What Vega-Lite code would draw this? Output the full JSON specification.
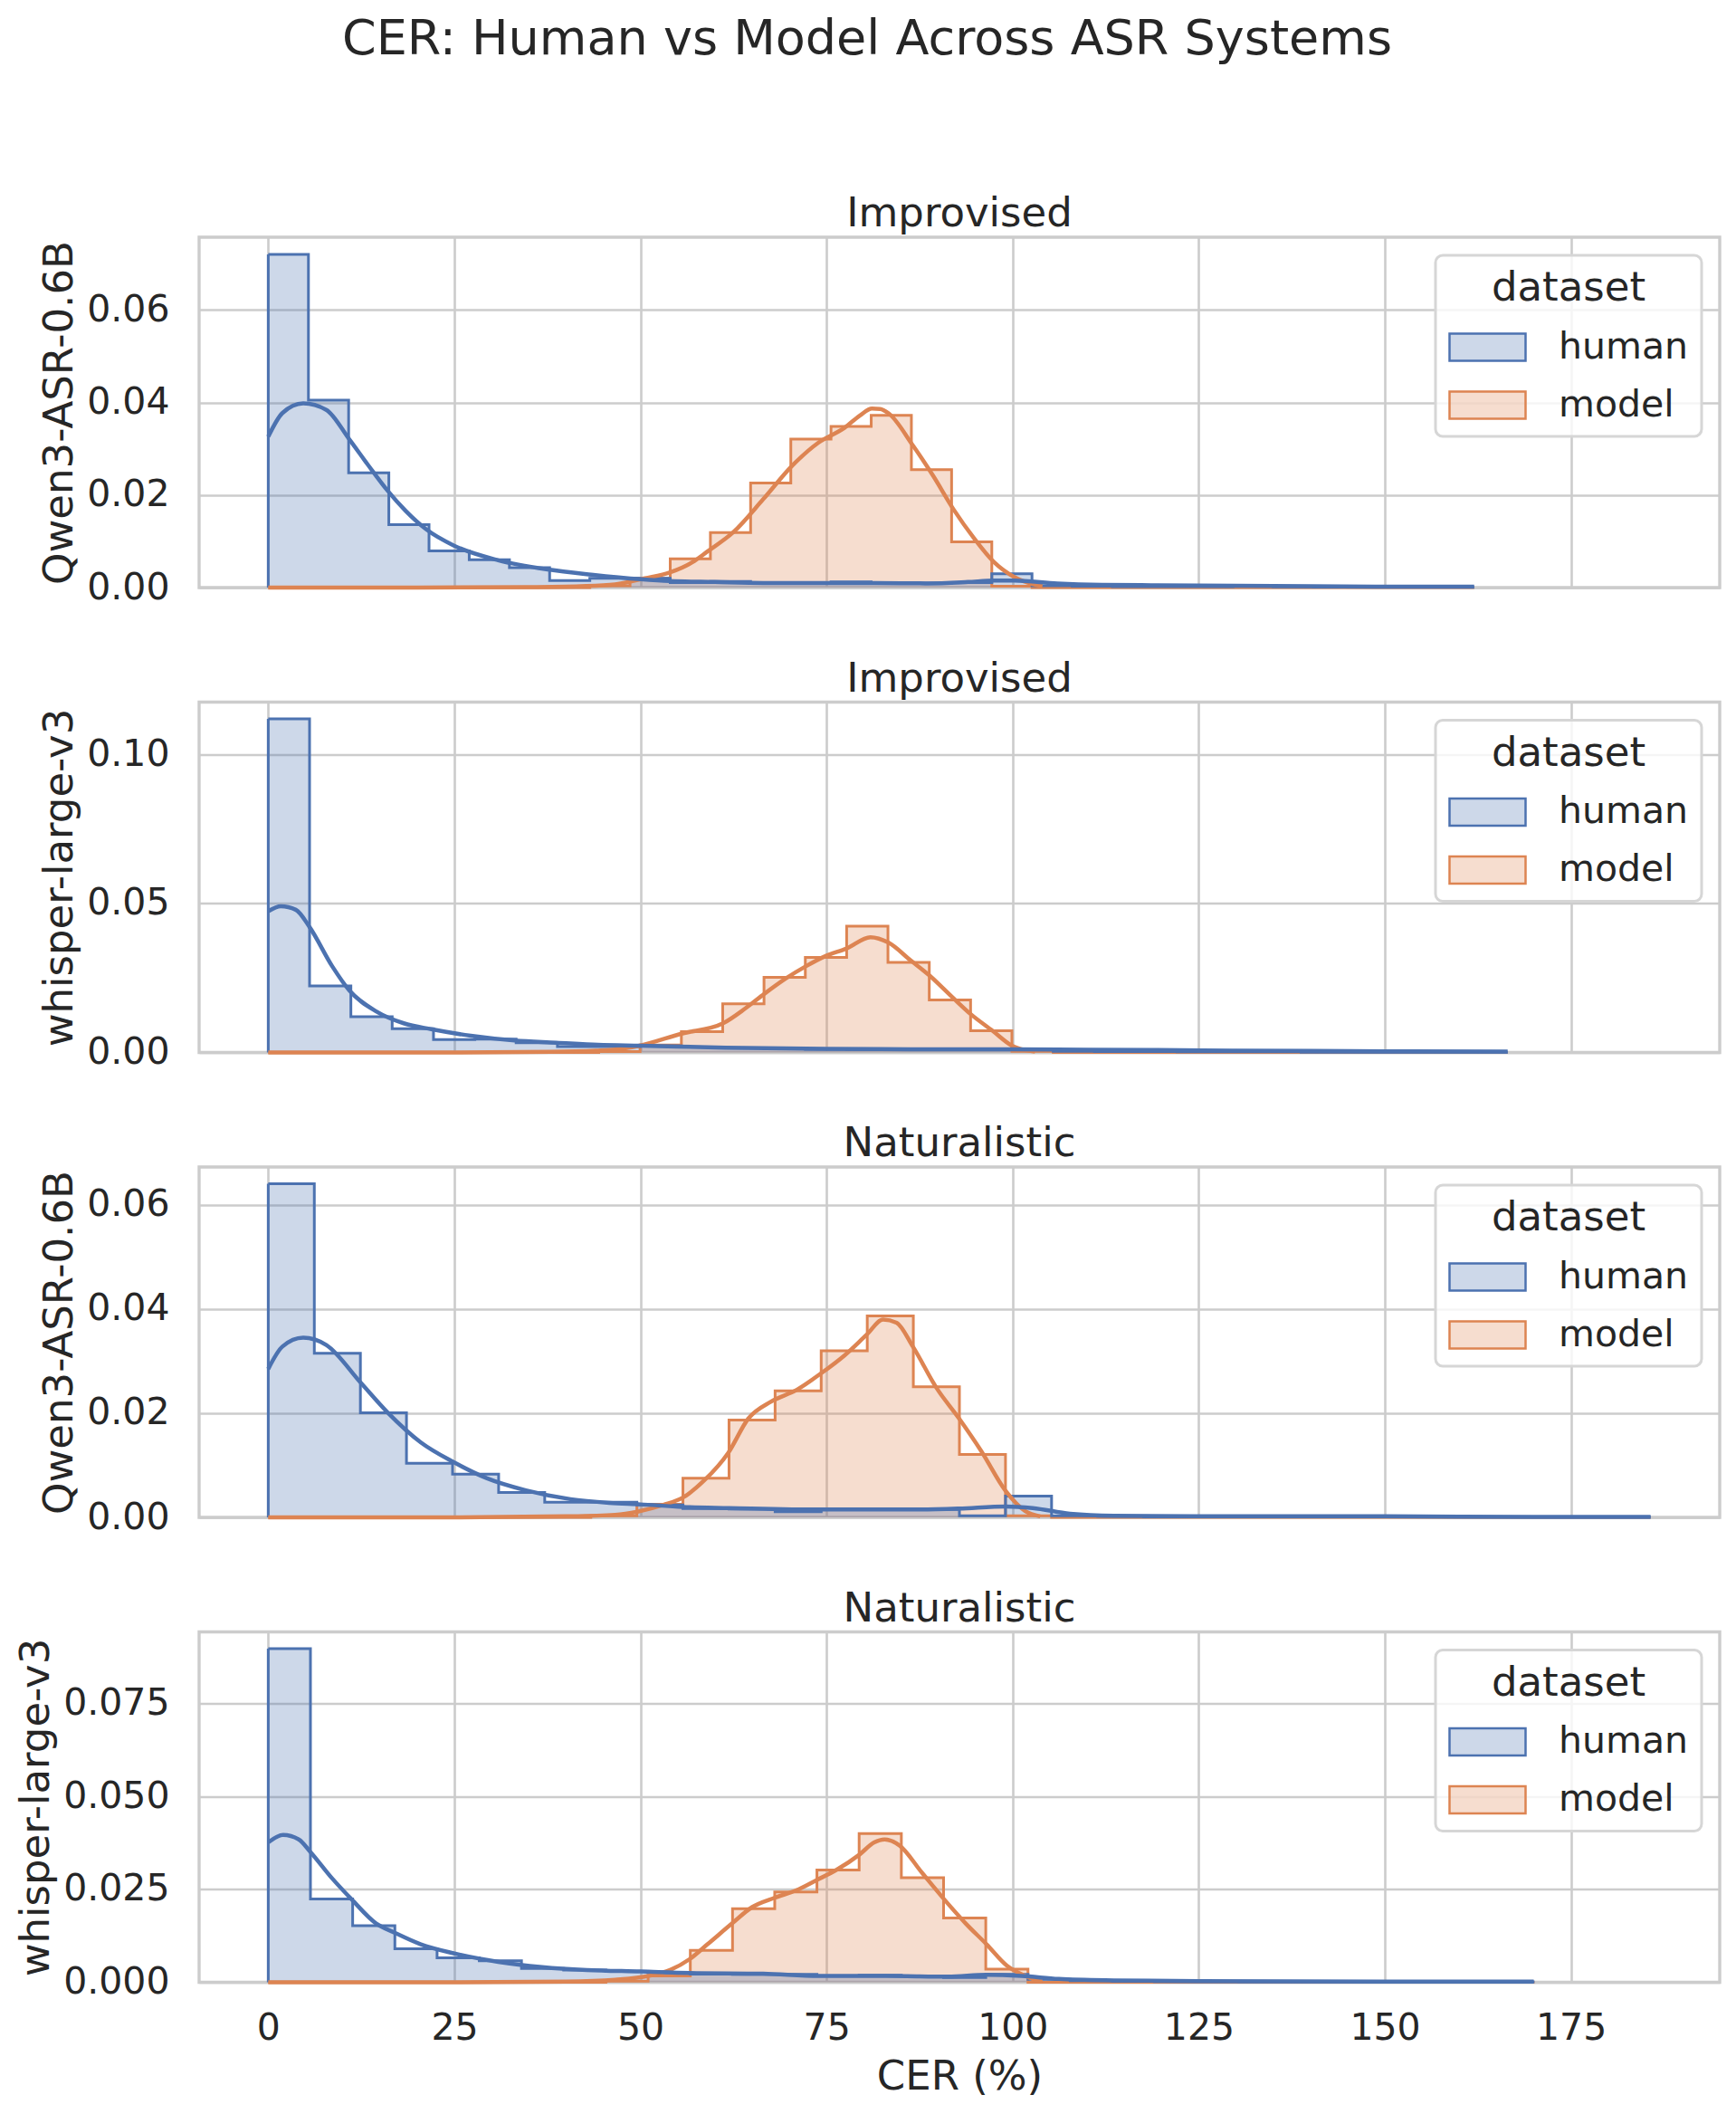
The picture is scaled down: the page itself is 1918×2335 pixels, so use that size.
{
  "$schema": "https://vega.github.io/schema/vega-lite/v6.json",
  "autosize": {"type": "none"},
  "padding": {"left": 220, "top": 262, "right": 1698, "bottom": 2073},
  "background": "white",
  "title": {
    "text": "CER: Human vs Model Across ASR Systems",
    "fontSize": 54,
    "anchor": "start",
    "align": "center",
    "dx": 738,
    "baseline": "alphabetic",
    "offset": 98
  },
  "datasets": {
    "hist": [
      {"panel":1,"dataset":"model","cer":0,"density":0},{"panel":1,"dataset":"model","cer":5.4,"density":0},{"panel":1,"dataset":"model","cer":10.8,"density":0},{"panel":1,"dataset":"model","cer":16.2,"density":0},{"panel":1,"dataset":"model","cer":21.6,"density":0},{"panel":1,"dataset":"model","cer":27,"density":0},{"panel":1,"dataset":"model","cer":32.4,"density":0},{"panel":1,"dataset":"model","cer":37.8,"density":0},{"panel":1,"dataset":"model","cer":43.2,"density":0.0004},{"panel":1,"dataset":"model","cer":48.6,"density":0.002},{"panel":1,"dataset":"model","cer":54,"density":0.0062},{"panel":1,"dataset":"model","cer":59.4,"density":0.0119},{"panel":1,"dataset":"model","cer":64.8,"density":0.0226},{"panel":1,"dataset":"model","cer":70.2,"density":0.0321},{"panel":1,"dataset":"model","cer":75.6,"density":0.0348},{"panel":1,"dataset":"model","cer":81,"density":0.0372},{"panel":1,"dataset":"model","cer":86.4,"density":0.0255},{"panel":1,"dataset":"model","cer":91.8,"density":0.0099},{"panel":1,"dataset":"model","cer":97.2,"density":0.0003},{"panel":1,"dataset":"model","cer":102.6,"density":0},{"panel":1,"dataset":"model","cer":108,"density":0},{"panel":1,"dataset":"model","cer":113.4,"density":0},{"panel":1,"dataset":"model","cer":118.8,"density":0},{"panel":1,"dataset":"model","cer":124.2,"density":0},{"panel":1,"dataset":"model","cer":129.6,"density":0},{"panel":1,"dataset":"model","cer":135,"density":0},{"panel":1,"dataset":"model","cer":140.4,"density":0},{"panel":1,"dataset":"model","cer":145.8,"density":0},{"panel":1,"dataset":"model","cer":151.2,"density":0},{"panel":1,"dataset":"model","cer":156.6,"density":0},{"panel":1,"dataset":"model","cer":162,"density":0},
      {"panel":1,"dataset":"human","cer":0,"density":0.072},{"panel":1,"dataset":"human","cer":5.4,"density":0.0405},{"panel":1,"dataset":"human","cer":10.8,"density":0.0248},{"panel":1,"dataset":"human","cer":16.2,"density":0.0136},{"panel":1,"dataset":"human","cer":21.6,"density":0.0079},{"panel":1,"dataset":"human","cer":27,"density":0.006},{"panel":1,"dataset":"human","cer":32.4,"density":0.0043},{"panel":1,"dataset":"human","cer":37.8,"density":0.0015},{"panel":1,"dataset":"human","cer":43.2,"density":0.002},{"panel":1,"dataset":"human","cer":48.6,"density":0.002},{"panel":1,"dataset":"human","cer":54,"density":0.0011},{"panel":1,"dataset":"human","cer":59.4,"density":0.0013},{"panel":1,"dataset":"human","cer":64.8,"density":0.001},{"panel":1,"dataset":"human","cer":70.2,"density":0.001},{"panel":1,"dataset":"human","cer":75.6,"density":0.0012},{"panel":1,"dataset":"human","cer":81,"density":0.001},{"panel":1,"dataset":"human","cer":86.4,"density":0.001},{"panel":1,"dataset":"human","cer":91.8,"density":0.0011},{"panel":1,"dataset":"human","cer":97.2,"density":0.003},{"panel":1,"dataset":"human","cer":102.6,"density":0.0004},{"panel":1,"dataset":"human","cer":108,"density":0.0003},{"panel":1,"dataset":"human","cer":113.4,"density":0.0002},{"panel":1,"dataset":"human","cer":118.8,"density":0.0002},{"panel":1,"dataset":"human","cer":124.2,"density":0.0002},{"panel":1,"dataset":"human","cer":129.6,"density":0.0004},{"panel":1,"dataset":"human","cer":135,"density":0.0002},{"panel":1,"dataset":"human","cer":140.4,"density":0.0001},{"panel":1,"dataset":"human","cer":145.8,"density":0.0001},{"panel":1,"dataset":"human","cer":151.2,"density":0.0001},{"panel":1,"dataset":"human","cer":156.6,"density":0.0001},{"panel":1,"dataset":"human","cer":162,"density":0.0001},
      {"panel":2,"dataset":"model","cer":0,"density":0},{"panel":2,"dataset":"model","cer":5.55,"density":0},{"panel":2,"dataset":"model","cer":11.1,"density":0},{"panel":2,"dataset":"model","cer":16.65,"density":0},{"panel":2,"dataset":"model","cer":22.2,"density":0},{"panel":2,"dataset":"model","cer":27.75,"density":0},{"panel":2,"dataset":"model","cer":33.3,"density":0},{"panel":2,"dataset":"model","cer":38.85,"density":0},{"panel":2,"dataset":"model","cer":44.4,"density":0.0003},{"panel":2,"dataset":"model","cer":49.95,"density":0.0025},{"panel":2,"dataset":"model","cer":55.5,"density":0.007},{"panel":2,"dataset":"model","cer":61.05,"density":0.0163},{"panel":2,"dataset":"model","cer":66.6,"density":0.0252},{"panel":2,"dataset":"model","cer":72.15,"density":0.0319},{"panel":2,"dataset":"model","cer":77.7,"density":0.0424},{"panel":2,"dataset":"model","cer":83.25,"density":0.0302},{"panel":2,"dataset":"model","cer":88.8,"density":0.0176},{"panel":2,"dataset":"model","cer":94.35,"density":0.0073},{"panel":2,"dataset":"model","cer":99.9,"density":0.0004},{"panel":2,"dataset":"model","cer":105.45,"density":0},{"panel":2,"dataset":"model","cer":111,"density":0},{"panel":2,"dataset":"model","cer":116.55,"density":0},{"panel":2,"dataset":"model","cer":122.1,"density":0},{"panel":2,"dataset":"model","cer":127.65,"density":0},{"panel":2,"dataset":"model","cer":133.2,"density":0},{"panel":2,"dataset":"model","cer":138.75,"density":0},{"panel":2,"dataset":"model","cer":144.3,"density":0},{"panel":2,"dataset":"model","cer":149.85,"density":0},{"panel":2,"dataset":"model","cer":155.4,"density":0},{"panel":2,"dataset":"model","cer":160.95,"density":0},{"panel":2,"dataset":"model","cer":166.5,"density":0},
      {"panel":2,"dataset":"human","cer":0,"density":0.112},{"panel":2,"dataset":"human","cer":5.55,"density":0.0223},{"panel":2,"dataset":"human","cer":11.1,"density":0.012},{"panel":2,"dataset":"human","cer":16.65,"density":0.008},{"panel":2,"dataset":"human","cer":22.2,"density":0.0043},{"panel":2,"dataset":"human","cer":27.75,"density":0.0045},{"panel":2,"dataset":"human","cer":33.3,"density":0.0033},{"panel":2,"dataset":"human","cer":38.85,"density":0.002},{"panel":2,"dataset":"human","cer":44.4,"density":0.002},{"panel":2,"dataset":"human","cer":49.95,"density":0.0022},{"panel":2,"dataset":"human","cer":55.5,"density":0.0018},{"panel":2,"dataset":"human","cer":61.05,"density":0.0015},{"panel":2,"dataset":"human","cer":66.6,"density":0.0013},{"panel":2,"dataset":"human","cer":72.15,"density":0.0011},{"panel":2,"dataset":"human","cer":77.7,"density":0.001},{"panel":2,"dataset":"human","cer":83.25,"density":0.001},{"panel":2,"dataset":"human","cer":88.8,"density":0.0009},{"panel":2,"dataset":"human","cer":94.35,"density":0.0009},{"panel":2,"dataset":"human","cer":99.9,"density":0.001},{"panel":2,"dataset":"human","cer":105.45,"density":0.0004},{"panel":2,"dataset":"human","cer":111,"density":0.0003},{"panel":2,"dataset":"human","cer":116.55,"density":0.0003},{"panel":2,"dataset":"human","cer":122.1,"density":0.0002},{"panel":2,"dataset":"human","cer":127.65,"density":0.0002},{"panel":2,"dataset":"human","cer":133.2,"density":0.0002},{"panel":2,"dataset":"human","cer":138.75,"density":0.0001},{"panel":2,"dataset":"human","cer":144.3,"density":0.0001},{"panel":2,"dataset":"human","cer":149.85,"density":0.0001},{"panel":2,"dataset":"human","cer":155.4,"density":0.0001},{"panel":2,"dataset":"human","cer":160.95,"density":0.0001},{"panel":2,"dataset":"human","cer":166.5,"density":0.0001},
      {"panel":3,"dataset":"model","cer":0,"density":0},{"panel":3,"dataset":"model","cer":6.19,"density":0},{"panel":3,"dataset":"model","cer":12.38,"density":0},{"panel":3,"dataset":"model","cer":18.57,"density":0},{"panel":3,"dataset":"model","cer":24.76,"density":0},{"panel":3,"dataset":"model","cer":30.95,"density":0},{"panel":3,"dataset":"model","cer":37.14,"density":0},{"panel":3,"dataset":"model","cer":43.33,"density":0.0003},{"panel":3,"dataset":"model","cer":49.52,"density":0.0025},{"panel":3,"dataset":"model","cer":55.71,"density":0.0075},{"panel":3,"dataset":"model","cer":61.9,"density":0.0187},{"panel":3,"dataset":"model","cer":68.09,"density":0.0243},{"panel":3,"dataset":"model","cer":74.28,"density":0.032},{"panel":3,"dataset":"model","cer":80.47,"density":0.0387},{"panel":3,"dataset":"model","cer":86.66,"density":0.0251},{"panel":3,"dataset":"model","cer":92.85,"density":0.0121},{"panel":3,"dataset":"model","cer":99.04,"density":0.0003},{"panel":3,"dataset":"model","cer":105.23,"density":0},{"panel":3,"dataset":"model","cer":111.42,"density":0},{"panel":3,"dataset":"model","cer":117.61,"density":0},{"panel":3,"dataset":"model","cer":123.8,"density":0},{"panel":3,"dataset":"model","cer":129.99,"density":0},{"panel":3,"dataset":"model","cer":136.18,"density":0},{"panel":3,"dataset":"model","cer":142.37,"density":0},{"panel":3,"dataset":"model","cer":148.56,"density":0},{"panel":3,"dataset":"model","cer":154.75,"density":0},{"panel":3,"dataset":"model","cer":160.94,"density":0},{"panel":3,"dataset":"model","cer":167.13,"density":0},{"panel":3,"dataset":"model","cer":173.32,"density":0},{"panel":3,"dataset":"model","cer":179.51,"density":0},{"panel":3,"dataset":"model","cer":185.7,"density":0},
      {"panel":3,"dataset":"human","cer":0,"density":0.0641},{"panel":3,"dataset":"human","cer":6.19,"density":0.0315},{"panel":3,"dataset":"human","cer":12.38,"density":0.0201},{"panel":3,"dataset":"human","cer":18.57,"density":0.0104},{"panel":3,"dataset":"human","cer":24.76,"density":0.0083},{"panel":3,"dataset":"human","cer":30.95,"density":0.0048},{"panel":3,"dataset":"human","cer":37.14,"density":0.0029},{"panel":3,"dataset":"human","cer":43.33,"density":0.0029},{"panel":3,"dataset":"human","cer":49.52,"density":0.0024},{"panel":3,"dataset":"human","cer":55.71,"density":0.0017},{"panel":3,"dataset":"human","cer":61.9,"density":0.0016},{"panel":3,"dataset":"human","cer":68.09,"density":0.0011},{"panel":3,"dataset":"human","cer":74.28,"density":0.0016},{"panel":3,"dataset":"human","cer":80.47,"density":0.0015},{"panel":3,"dataset":"human","cer":86.66,"density":0.0015},{"panel":3,"dataset":"human","cer":92.85,"density":0.0003},{"panel":3,"dataset":"human","cer":99.04,"density":0.0041},{"panel":3,"dataset":"human","cer":105.23,"density":0.0003},{"panel":3,"dataset":"human","cer":111.42,"density":0.0002},{"panel":3,"dataset":"human","cer":117.61,"density":0.0001},{"panel":3,"dataset":"human","cer":123.8,"density":0.0001},{"panel":3,"dataset":"human","cer":129.99,"density":0.0001},{"panel":3,"dataset":"human","cer":136.18,"density":0.0001},{"panel":3,"dataset":"human","cer":142.37,"density":0.0001},{"panel":3,"dataset":"human","cer":148.56,"density":0.0001},{"panel":3,"dataset":"human","cer":154.75,"density":0.0001},{"panel":3,"dataset":"human","cer":160.94,"density":0.0001},{"panel":3,"dataset":"human","cer":167.13,"density":0.0001},{"panel":3,"dataset":"human","cer":173.32,"density":0.0001},{"panel":3,"dataset":"human","cer":179.51,"density":0.0001},{"panel":3,"dataset":"human","cer":185.7,"density":0.0001},
      {"panel":4,"dataset":"model","cer":0,"density":0},{"panel":4,"dataset":"model","cer":5.67,"density":0},{"panel":4,"dataset":"model","cer":11.34,"density":0},{"panel":4,"dataset":"model","cer":17.01,"density":0},{"panel":4,"dataset":"model","cer":22.68,"density":0},{"panel":4,"dataset":"model","cer":28.35,"density":0},{"panel":4,"dataset":"model","cer":34.02,"density":0},{"panel":4,"dataset":"model","cer":39.69,"density":0},{"panel":4,"dataset":"model","cer":45.36,"density":0.0003},{"panel":4,"dataset":"model","cer":51.03,"density":0.0017},{"panel":4,"dataset":"model","cer":56.7,"density":0.0086},{"panel":4,"dataset":"model","cer":62.37,"density":0.0198},{"panel":4,"dataset":"model","cer":68.04,"density":0.0243},{"panel":4,"dataset":"model","cer":73.71,"density":0.0302},{"panel":4,"dataset":"model","cer":79.38,"density":0.04},{"panel":4,"dataset":"model","cer":85.05,"density":0.0281},{"panel":4,"dataset":"model","cer":90.72,"density":0.0173},{"panel":4,"dataset":"model","cer":96.39,"density":0.0035},{"panel":4,"dataset":"model","cer":102.06,"density":0},{"panel":4,"dataset":"model","cer":107.73,"density":0},{"panel":4,"dataset":"model","cer":113.4,"density":0},{"panel":4,"dataset":"model","cer":119.07,"density":0},{"panel":4,"dataset":"model","cer":124.74,"density":0},{"panel":4,"dataset":"model","cer":130.41,"density":0},{"panel":4,"dataset":"model","cer":136.08,"density":0},{"panel":4,"dataset":"model","cer":141.75,"density":0},{"panel":4,"dataset":"model","cer":147.42,"density":0},{"panel":4,"dataset":"model","cer":153.09,"density":0},{"panel":4,"dataset":"model","cer":158.76,"density":0},{"panel":4,"dataset":"model","cer":164.43,"density":0},{"panel":4,"dataset":"model","cer":170.1,"density":0},
      {"panel":4,"dataset":"human","cer":0,"density":0.0897},{"panel":4,"dataset":"human","cer":5.67,"density":0.0224},{"panel":4,"dataset":"human","cer":11.34,"density":0.0152},{"panel":4,"dataset":"human","cer":17.01,"density":0.009},{"panel":4,"dataset":"human","cer":22.68,"density":0.0066},{"panel":4,"dataset":"human","cer":28.35,"density":0.0058},{"panel":4,"dataset":"human","cer":34.02,"density":0.0037},{"panel":4,"dataset":"human","cer":39.69,"density":0.0033},{"panel":4,"dataset":"human","cer":45.36,"density":0.0029},{"panel":4,"dataset":"human","cer":51.03,"density":0.0025},{"panel":4,"dataset":"human","cer":56.7,"density":0.0022},{"panel":4,"dataset":"human","cer":62.37,"density":0.0021},{"panel":4,"dataset":"human","cer":68.04,"density":0.0021},{"panel":4,"dataset":"human","cer":73.71,"density":0.0017},{"panel":4,"dataset":"human","cer":79.38,"density":0.0019},{"panel":4,"dataset":"human","cer":85.05,"density":0.0017},{"panel":4,"dataset":"human","cer":90.72,"density":0.0013},{"panel":4,"dataset":"human","cer":96.39,"density":0.0021},{"panel":4,"dataset":"human","cer":102.06,"density":0.0008},{"panel":4,"dataset":"human","cer":107.73,"density":0.0004},{"panel":4,"dataset":"human","cer":113.4,"density":0.0003},{"panel":4,"dataset":"human","cer":119.07,"density":0.0002},{"panel":4,"dataset":"human","cer":124.74,"density":0.0002},{"panel":4,"dataset":"human","cer":130.41,"density":0.0001},{"panel":4,"dataset":"human","cer":136.08,"density":0.0001},{"panel":4,"dataset":"human","cer":141.75,"density":0.0001},{"panel":4,"dataset":"human","cer":147.42,"density":0.0001},{"panel":4,"dataset":"human","cer":153.09,"density":0.0001},{"panel":4,"dataset":"human","cer":158.76,"density":0.0001},{"panel":4,"dataset":"human","cer":164.43,"density":0.0001},{"panel":4,"dataset":"human","cer":170.1,"density":0.0001}
    ],
    "kde": [
      {"panel":1,"dataset":"model","cer":0,"density":0},{"panel":1,"dataset":"model","cer":20,"density":0},{"panel":1,"dataset":"model","cer":35,"density":0.0001},{"panel":1,"dataset":"model","cer":42,"density":0.0003},{"panel":1,"dataset":"model","cer":46.6,"density":0.0007},{"panel":1,"dataset":"model","cer":50.6,"density":0.002},{"panel":1,"dataset":"model","cer":54,"density":0.0033},{"panel":1,"dataset":"model","cer":57,"density":0.0055},{"panel":1,"dataset":"model","cer":59,"density":0.0078},{"panel":1,"dataset":"model","cer":62.5,"density":0.012},{"panel":1,"dataset":"model","cer":66.5,"density":0.0191},{"panel":1,"dataset":"model","cer":70.3,"density":0.0262},{"panel":1,"dataset":"model","cer":73.9,"density":0.0313},{"panel":1,"dataset":"model","cer":77.4,"density":0.0345},{"panel":1,"dataset":"model","cer":79.5,"density":0.0372},{"panel":1,"dataset":"model","cer":81.1,"density":0.0387},{"panel":1,"dataset":"model","cer":82.2,"density":0.0386},{"panel":1,"dataset":"model","cer":83.3,"density":0.0377},{"panel":1,"dataset":"model","cer":86.6,"density":0.0307},{"panel":1,"dataset":"model","cer":89.3,"density":0.0242},{"panel":1,"dataset":"model","cer":92.1,"density":0.0168},{"panel":1,"dataset":"model","cer":94.8,"density":0.0107},{"panel":1,"dataset":"model","cer":97.5,"density":0.0055},{"panel":1,"dataset":"model","cer":100.2,"density":0.0023},{"panel":1,"dataset":"model","cer":102.8,"density":0.0007},{"panel":1,"dataset":"model","cer":104,"density":0.0003},
      {"panel":1,"dataset":"human","cer":0,"density":0.0326},{"panel":1,"dataset":"human","cer":1.9,"density":0.0377},{"panel":1,"dataset":"human","cer":4.7,"density":0.0398},{"panel":1,"dataset":"human","cer":7.8,"density":0.0384},{"panel":1,"dataset":"human","cer":10.9,"density":0.032},{"panel":1,"dataset":"human","cer":13.4,"density":0.0265},{"panel":1,"dataset":"human","cer":16,"density":0.021},{"panel":1,"dataset":"human","cer":18.5,"density":0.0165},{"panel":1,"dataset":"human","cer":21.2,"density":0.0126},{"panel":1,"dataset":"human","cer":24.9,"density":0.0091},{"panel":1,"dataset":"human","cer":30.9,"density":0.0059},{"panel":1,"dataset":"human","cer":37.6,"density":0.0039},{"panel":1,"dataset":"human","cer":43.4,"density":0.0028},{"panel":1,"dataset":"human","cer":50,"density":0.0018},{"panel":1,"dataset":"human","cer":54,"density":0.0014},{"panel":1,"dataset":"human","cer":60,"density":0.0012},{"panel":1,"dataset":"human","cer":66.5,"density":0.001},{"panel":1,"dataset":"human","cer":75,"density":0.001},{"panel":1,"dataset":"human","cer":81.2,"density":0.001},{"panel":1,"dataset":"human","cer":88.6,"density":0.0009},{"panel":1,"dataset":"human","cer":94,"density":0.0012},{"panel":1,"dataset":"human","cer":97.5,"density":0.0015},{"panel":1,"dataset":"human","cer":100.2,"density":0.0015},{"panel":1,"dataset":"human","cer":106,"density":0.0009},{"panel":1,"dataset":"human","cer":112,"density":0.0006},{"panel":1,"dataset":"human","cer":119.5,"density":0.0005},{"panel":1,"dataset":"human","cer":130,"density":0.0004},{"panel":1,"dataset":"human","cer":140,"density":0.0003},{"panel":1,"dataset":"human","cer":150,"density":0.0002},{"panel":1,"dataset":"human","cer":162,"density":0.0002},
      {"panel":2,"dataset":"model","cer":0,"density":0},{"panel":2,"dataset":"model","cer":25,"density":0},{"panel":2,"dataset":"model","cer":38,"density":0.0002},{"panel":2,"dataset":"model","cer":44,"density":0.0006},{"panel":2,"dataset":"model","cer":46.7,"density":0.001},{"panel":2,"dataset":"model","cer":49.9,"density":0.0023},{"panel":2,"dataset":"model","cer":55.5,"density":0.0063},{"panel":2,"dataset":"model","cer":61.1,"density":0.0098},{"panel":2,"dataset":"model","cer":64.1,"density":0.0148},{"panel":2,"dataset":"model","cer":66.7,"density":0.0198},{"panel":2,"dataset":"model","cer":69.5,"density":0.0248},{"panel":2,"dataset":"model","cer":72.2,"density":0.0289},{"panel":2,"dataset":"model","cer":74.9,"density":0.0324},{"panel":2,"dataset":"model","cer":77.7,"density":0.0349},{"panel":2,"dataset":"model","cer":80.9,"density":0.0387},{"panel":2,"dataset":"model","cer":83.3,"density":0.0369},{"panel":2,"dataset":"model","cer":86.3,"density":0.0309},{"panel":2,"dataset":"model","cer":88.8,"density":0.0259},{"panel":2,"dataset":"model","cer":91.8,"density":0.0188},{"panel":2,"dataset":"model","cer":94.4,"density":0.0128},{"panel":2,"dataset":"model","cer":97.3,"density":0.0073},{"panel":2,"dataset":"model","cer":99.9,"density":0.0023},{"panel":2,"dataset":"model","cer":101.7,"density":0.0008},{"panel":2,"dataset":"model","cer":103,"density":0.0003},
      {"panel":2,"dataset":"human","cer":0,"density":0.0474},{"panel":2,"dataset":"human","cer":1.7,"density":0.0491},{"panel":2,"dataset":"human","cer":3.7,"density":0.0479},{"panel":2,"dataset":"human","cer":5.6,"density":0.0419},{"panel":2,"dataset":"human","cer":8.6,"density":0.0289},{"panel":2,"dataset":"human","cer":10.9,"density":0.0208},{"panel":2,"dataset":"human","cer":14.5,"density":0.0138},{"panel":2,"dataset":"human","cer":18.2,"density":0.0098},{"panel":2,"dataset":"human","cer":21.9,"density":0.0078},{"panel":2,"dataset":"human","cer":27.2,"density":0.0056},{"panel":2,"dataset":"human","cer":33.1,"density":0.004},{"panel":2,"dataset":"human","cer":38.7,"density":0.0033},{"panel":2,"dataset":"human","cer":44.3,"density":0.0026},{"panel":2,"dataset":"human","cer":50,"density":0.0023},{"panel":2,"dataset":"human","cer":61.5,"density":0.0016},{"panel":2,"dataset":"human","cer":74.9,"density":0.0012},{"panel":2,"dataset":"human","cer":86.3,"density":0.0011},{"panel":2,"dataset":"human","cer":99.9,"density":0.0011},{"panel":2,"dataset":"human","cer":110,"density":0.0009},{"panel":2,"dataset":"human","cer":119.5,"density":0.0008},{"panel":2,"dataset":"human","cer":130,"density":0.0006},{"panel":2,"dataset":"human","cer":140,"density":0.0005},{"panel":2,"dataset":"human","cer":150,"density":0.0004},{"panel":2,"dataset":"human","cer":166.5,"density":0.0003},
      {"panel":3,"dataset":"model","cer":0,"density":0},{"panel":3,"dataset":"model","cer":25,"density":0},{"panel":3,"dataset":"model","cer":40,"density":0.0002},{"panel":3,"dataset":"model","cer":46.6,"density":0.0005},{"panel":3,"dataset":"model","cer":49.6,"density":0.0011},{"panel":3,"dataset":"model","cer":53.1,"density":0.0024},{"panel":3,"dataset":"model","cer":55.7,"density":0.0038},{"panel":3,"dataset":"model","cer":58.5,"density":0.007},{"panel":3,"dataset":"model","cer":61.8,"density":0.0124},{"panel":3,"dataset":"model","cer":64.5,"density":0.019},{"panel":3,"dataset":"model","cer":67.5,"density":0.0222},{"panel":3,"dataset":"model","cer":71,"density":0.0245},{"panel":3,"dataset":"model","cer":74.2,"density":0.0276},{"panel":3,"dataset":"model","cer":77.4,"density":0.0311},{"panel":3,"dataset":"model","cer":80.4,"density":0.0351},{"panel":3,"dataset":"model","cer":82.6,"density":0.038},{"panel":3,"dataset":"model","cer":84.4,"density":0.0374},{"panel":3,"dataset":"model","cer":86.6,"density":0.0328},{"panel":3,"dataset":"model","cer":89.8,"density":0.0248},{"panel":3,"dataset":"model","cer":92.8,"density":0.019},{"panel":3,"dataset":"model","cer":95.8,"density":0.0127},{"panel":3,"dataset":"model","cer":99,"density":0.0052},{"panel":3,"dataset":"model","cer":101.7,"density":0.0012},{"panel":3,"dataset":"model","cer":103.7,"density":0.0002},
      {"panel":3,"dataset":"human","cer":0,"density":0.0285},{"panel":3,"dataset":"human","cer":1.9,"density":0.0328},{"panel":3,"dataset":"human","cer":4.7,"density":0.0345},{"panel":3,"dataset":"human","cer":7.8,"density":0.0331},{"panel":3,"dataset":"human","cer":12.4,"density":0.0259},{"panel":3,"dataset":"human","cer":16,"density":0.0202},{"panel":3,"dataset":"human","cer":20.5,"density":0.0144},{"panel":3,"dataset":"human","cer":24.8,"density":0.0107},{"panel":3,"dataset":"human","cer":29.4,"density":0.0075},{"panel":3,"dataset":"human","cer":34.6,"density":0.0052},{"panel":3,"dataset":"human","cer":40.6,"density":0.0035},{"panel":3,"dataset":"human","cer":45.8,"density":0.0028},{"panel":3,"dataset":"human","cer":50,"density":0.0025},{"panel":3,"dataset":"human","cer":55.7,"density":0.002},{"panel":3,"dataset":"human","cer":61.9,"density":0.0018},{"panel":3,"dataset":"human","cer":74.3,"density":0.0015},{"panel":3,"dataset":"human","cer":86.6,"density":0.0015},{"panel":3,"dataset":"human","cer":92.8,"density":0.0017},{"panel":3,"dataset":"human","cer":99.1,"density":0.0021},{"panel":3,"dataset":"human","cer":102.7,"density":0.0018},{"panel":3,"dataset":"human","cer":107.7,"density":0.0007},{"panel":3,"dataset":"human","cer":113.6,"density":0.0003},{"panel":3,"dataset":"human","cer":125,"density":0.0002},{"panel":3,"dataset":"human","cer":150,"density":0.0002},{"panel":3,"dataset":"human","cer":170,"density":0.0001},{"panel":3,"dataset":"human","cer":185.7,"density":0.0001},
      {"panel":4,"dataset":"model","cer":0,"density":0},{"panel":4,"dataset":"model","cer":25,"density":0},{"panel":4,"dataset":"model","cer":40,"density":0.0002},{"panel":4,"dataset":"model","cer":46.6,"density":0.0007},{"panel":4,"dataset":"model","cer":51.1,"density":0.0017},{"panel":4,"dataset":"model","cer":54,"density":0.0033},{"panel":4,"dataset":"model","cer":56.6,"density":0.0062},{"panel":4,"dataset":"model","cer":59,"density":0.0102},{"panel":4,"dataset":"model","cer":62.3,"density":0.0158},{"panel":4,"dataset":"model","cer":65,"density":0.0202},{"panel":4,"dataset":"model","cer":68,"density":0.0227},{"panel":4,"dataset":"model","cer":70.9,"density":0.0247},{"panel":4,"dataset":"model","cer":73.7,"density":0.0275},{"panel":4,"dataset":"model","cer":76.4,"density":0.0303},{"panel":4,"dataset":"model","cer":79.4,"density":0.0343},{"panel":4,"dataset":"model","cer":81.4,"density":0.0376},{"panel":4,"dataset":"model","cer":82.8,"density":0.0384},{"panel":4,"dataset":"model","cer":84.8,"density":0.0368},{"panel":4,"dataset":"model","cer":87.8,"density":0.0295},{"panel":4,"dataset":"model","cer":90.8,"density":0.0223},{"panel":4,"dataset":"model","cer":93.7,"density":0.0158},{"panel":4,"dataset":"model","cer":96.5,"density":0.0102},{"panel":4,"dataset":"model","cer":99.2,"density":0.0045},{"panel":4,"dataset":"model","cer":101.7,"density":0.0017},{"panel":4,"dataset":"model","cer":102.7,"density":0.0009},{"panel":4,"dataset":"model","cer":104,"density":0.0003},
      {"panel":4,"dataset":"human","cer":0,"density":0.0376},{"panel":4,"dataset":"human","cer":2,"density":0.0396},{"panel":4,"dataset":"human","cer":4.1,"density":0.0384},{"panel":4,"dataset":"human","cer":5.6,"density":0.0352},{"panel":4,"dataset":"human","cer":8.6,"density":0.0279},{"panel":4,"dataset":"human","cer":11.2,"density":0.0223},{"panel":4,"dataset":"human","cer":14.5,"density":0.0158},{"panel":4,"dataset":"human","cer":16.9,"density":0.0134},{"panel":4,"dataset":"human","cer":20.5,"density":0.0102},{"panel":4,"dataset":"human","cer":24.9,"density":0.0078},{"panel":4,"dataset":"human","cer":30.9,"density":0.0055},{"panel":4,"dataset":"human","cer":36.8,"density":0.0041},{"panel":4,"dataset":"human","cer":42.8,"density":0.0033},{"panel":4,"dataset":"human","cer":50,"density":0.0029},{"panel":4,"dataset":"human","cer":56.6,"density":0.0025},{"panel":4,"dataset":"human","cer":66.5,"density":0.0023},{"panel":4,"dataset":"human","cer":73.9,"density":0.0017},{"panel":4,"dataset":"human","cer":82.9,"density":0.0017},{"panel":4,"dataset":"human","cer":91.3,"density":0.0015},{"panel":4,"dataset":"human","cer":96.5,"density":0.002},{"panel":4,"dataset":"human","cer":101.2,"density":0.0017},{"panel":4,"dataset":"human","cer":106.2,"density":0.0009},{"panel":4,"dataset":"human","cer":113.6,"density":0.0005},{"panel":4,"dataset":"human","cer":125,"density":0.0003},{"panel":4,"dataset":"human","cer":150,"density":0.0002},{"panel":4,"dataset":"human","cer":170,"density":0.0002}
    ]
  },
  "spacing": 126.5,
  "bounds": "flush",
  "resolve": {"scale": {"color": "independent"}, "legend": {"color": "independent"}},
  "vconcat": [
    {
      "title": {"text": "Improvised"},
      "width": 1680, "height": 387,
      "encoding": {
        "x": {"field": "cer", "type": "quantitative", "scale": {"domain": [-9.285, 194.985], "nice": false, "zero": false}, "axis": {"values": [0,25,50,75,100,125,150,175], "labels": false, "title": null}},
        "y": {"field": "density", "type": "quantitative", "stack": null, "scale": {"domain": [0, 0.0757], "nice": false}, "axis": {"title": "Qwen3-ASR-0.6B", "values": [0,0.02,0.04,0.06], "format": ".2f"}},
        "color": {"field": "dataset", "type": "nominal", "scale": {"domain": ["human","model"], "range": ["#4c72b0","#dd8452"]},
          "legend": {"symbolType": "M-1,-0.357H1V0.357H-1Z", "encode": {"symbols": {"update": {"fill": {"signal": "datum.value === 'human' ? '#4c72b0' : '#dd8452'"}, "fillOpacity": {"value": 0.28}, "stroke": {"signal": "datum.value === 'human' ? '#4c72b0' : '#dd8452'"}, "strokeOpacity": {"value": 1}}}}}}
      },
      "layer": [
        {"data": {"name": "hist"}, "transform": [{"filter": "datum.panel === 1"}], "mark": {"type": "area", "interpolate": "step-after", "fillOpacity": 0.28}},
        {"data": {"name": "hist"}, "transform": [{"filter": "datum.panel === 1"}], "mark": {"type": "line", "interpolate": "step-after", "strokeWidth": 3}},
        {"data": {"name": "hist"}, "transform": [{"filter": "datum.panel === 1 && datum.cer === 0 && datum.density > 0"}], "mark": {"type": "rule", "strokeWidth": 3}, "encoding": {"y2": {"datum": 0}}},
        {"data": {"name": "kde"}, "transform": [{"filter": "datum.panel === 1"}], "mark": {"type": "line", "interpolate": "monotone", "strokeWidth": 4.5}}
      ]
    },
    {
      "title": {"text": "Improvised"},
      "width": 1680, "height": 387,
      "encoding": {
        "x": {"field": "cer", "type": "quantitative", "scale": {"domain": [-9.285, 194.985], "nice": false, "zero": false}, "axis": {"values": [0,25,50,75,100,125,150,175], "labels": false, "title": null}},
        "y": {"field": "density", "type": "quantitative", "stack": null, "scale": {"domain": [0, 0.1176], "nice": false}, "axis": {"title": "whisper-large-v3", "values": [0,0.05,0.1], "format": ".2f"}},
        "color": {"field": "dataset", "type": "nominal", "scale": {"domain": ["human","model"], "range": ["#4c72b0","#dd8452"]},
          "legend": {"symbolType": "M-1,-0.357H1V0.357H-1Z", "encode": {"symbols": {"update": {"fill": {"signal": "datum.value === 'human' ? '#4c72b0' : '#dd8452'"}, "fillOpacity": {"value": 0.28}, "stroke": {"signal": "datum.value === 'human' ? '#4c72b0' : '#dd8452'"}, "strokeOpacity": {"value": 1}}}}}}
      },
      "layer": [
        {"data": {"name": "hist"}, "transform": [{"filter": "datum.panel === 2"}], "mark": {"type": "area", "interpolate": "step-after", "fillOpacity": 0.28}},
        {"data": {"name": "hist"}, "transform": [{"filter": "datum.panel === 2"}], "mark": {"type": "line", "interpolate": "step-after", "strokeWidth": 3}},
        {"data": {"name": "hist"}, "transform": [{"filter": "datum.panel === 2 && datum.cer === 0 && datum.density > 0"}], "mark": {"type": "rule", "strokeWidth": 3}, "encoding": {"y2": {"datum": 0}}},
        {"data": {"name": "kde"}, "transform": [{"filter": "datum.panel === 2"}], "mark": {"type": "line", "interpolate": "monotone", "strokeWidth": 4.5}}
      ]
    },
    {
      "title": {"text": "Naturalistic"},
      "width": 1680, "height": 387,
      "encoding": {
        "x": {"field": "cer", "type": "quantitative", "scale": {"domain": [-9.285, 194.985], "nice": false, "zero": false}, "axis": {"values": [0,25,50,75,100,125,150,175], "labels": false, "title": null}},
        "y": {"field": "density", "type": "quantitative", "stack": null, "scale": {"domain": [0, 0.0673], "nice": false}, "axis": {"title": "Qwen3-ASR-0.6B", "values": [0,0.02,0.04,0.06], "format": ".2f"}},
        "color": {"field": "dataset", "type": "nominal", "scale": {"domain": ["human","model"], "range": ["#4c72b0","#dd8452"]},
          "legend": {"symbolType": "M-1,-0.357H1V0.357H-1Z", "encode": {"symbols": {"update": {"fill": {"signal": "datum.value === 'human' ? '#4c72b0' : '#dd8452'"}, "fillOpacity": {"value": 0.28}, "stroke": {"signal": "datum.value === 'human' ? '#4c72b0' : '#dd8452'"}, "strokeOpacity": {"value": 1}}}}}}
      },
      "layer": [
        {"data": {"name": "hist"}, "transform": [{"filter": "datum.panel === 3"}], "mark": {"type": "area", "interpolate": "step-after", "fillOpacity": 0.28}},
        {"data": {"name": "hist"}, "transform": [{"filter": "datum.panel === 3"}], "mark": {"type": "line", "interpolate": "step-after", "strokeWidth": 3}},
        {"data": {"name": "hist"}, "transform": [{"filter": "datum.panel === 3 && datum.cer === 0 && datum.density > 0"}], "mark": {"type": "rule", "strokeWidth": 3}, "encoding": {"y2": {"datum": 0}}},
        {"data": {"name": "kde"}, "transform": [{"filter": "datum.panel === 3"}], "mark": {"type": "line", "interpolate": "monotone", "strokeWidth": 4.5}}
      ]
    },
    {
      "title": {"text": "Naturalistic"},
      "width": 1680, "height": 387,
      "encoding": {
        "x": {"field": "cer", "type": "quantitative", "scale": {"domain": [-9.285, 194.985], "nice": false, "zero": false}, "axis": {"values": [0,25,50,75,100,125,150,175], "format": "d", "title": "CER (%)"}},
        "y": {"field": "density", "type": "quantitative", "stack": null, "scale": {"domain": [0, 0.0942], "nice": false}, "axis": {"title": "whisper-large-v3", "values": [0,0.025,0.05,0.075], "format": ".3f"}},
        "color": {"field": "dataset", "type": "nominal", "scale": {"domain": ["human","model"], "range": ["#4c72b0","#dd8452"]},
          "legend": {"symbolType": "M-1,-0.357H1V0.357H-1Z", "encode": {"symbols": {"update": {"fill": {"signal": "datum.value === 'human' ? '#4c72b0' : '#dd8452'"}, "fillOpacity": {"value": 0.28}, "stroke": {"signal": "datum.value === 'human' ? '#4c72b0' : '#dd8452'"}, "strokeOpacity": {"value": 1}}}}}}
      },
      "layer": [
        {"data": {"name": "hist"}, "transform": [{"filter": "datum.panel === 4"}], "mark": {"type": "area", "interpolate": "step-after", "fillOpacity": 0.28}},
        {"data": {"name": "hist"}, "transform": [{"filter": "datum.panel === 4"}], "mark": {"type": "line", "interpolate": "step-after", "strokeWidth": 3}},
        {"data": {"name": "hist"}, "transform": [{"filter": "datum.panel === 4 && datum.cer === 0 && datum.density > 0"}], "mark": {"type": "rule", "strokeWidth": 3}, "encoding": {"y2": {"datum": 0}}},
        {"data": {"name": "kde"}, "transform": [{"filter": "datum.panel === 4"}], "mark": {"type": "line", "interpolate": "monotone", "strokeWidth": 4.5}}
      ]
    }
  ],
  "config": {
    "font": "DejaVu Sans",
    "view": {"stroke": "#cccccc", "strokeWidth": 3.4},
    "title": {"fontSize": 45, "fontWeight": "normal", "color": "#262626", "font": "DejaVu Sans", "frame": "group", "anchor": "middle", "baseline": "alphabetic", "offset": 3},
    "axis": {
      "grid": true, "gridColor": "#cccccc", "gridWidth": 2.6, "domain": false, "ticks": false, "tickSize": 0,
      "labelFont": "DejaVu Sans", "labelFontSize": 41, "labelColor": "#262626", "labelFlush": false, "labelOverlap": false,
      "titleFont": "DejaVu Sans", "titleFontSize": 45, "titleColor": "#262626", "titleFontWeight": "normal"
    },
    "axisX": {"labelPadding": 31, "titlePadding": 11},
    "axisY": {"labelPadding": 33, "titlePadding": 7},
    "legend": {
      "orient": "top-right", "offset": 20, "direction": "vertical",
      "titleFont": "DejaVu Sans", "titleFontSize": 45, "titleFontWeight": "normal", "titleColor": "#262626", "titleAnchor": "middle",
      "labelFont": "DejaVu Sans", "labelFontSize": 41, "labelColor": "#262626",
      "symbolSize": 7056, "symbolStrokeWidth": 2.5, "labelOffset": 35, "rowPadding": -5, "titlePadding": -1,
      "padding": 14, "cornerRadius": 8, "strokeColor": "#d6d6d6", "strokeWidth": 3, "fillColor": "rgba(255,255,255,0.8)"
    }
  }
}
